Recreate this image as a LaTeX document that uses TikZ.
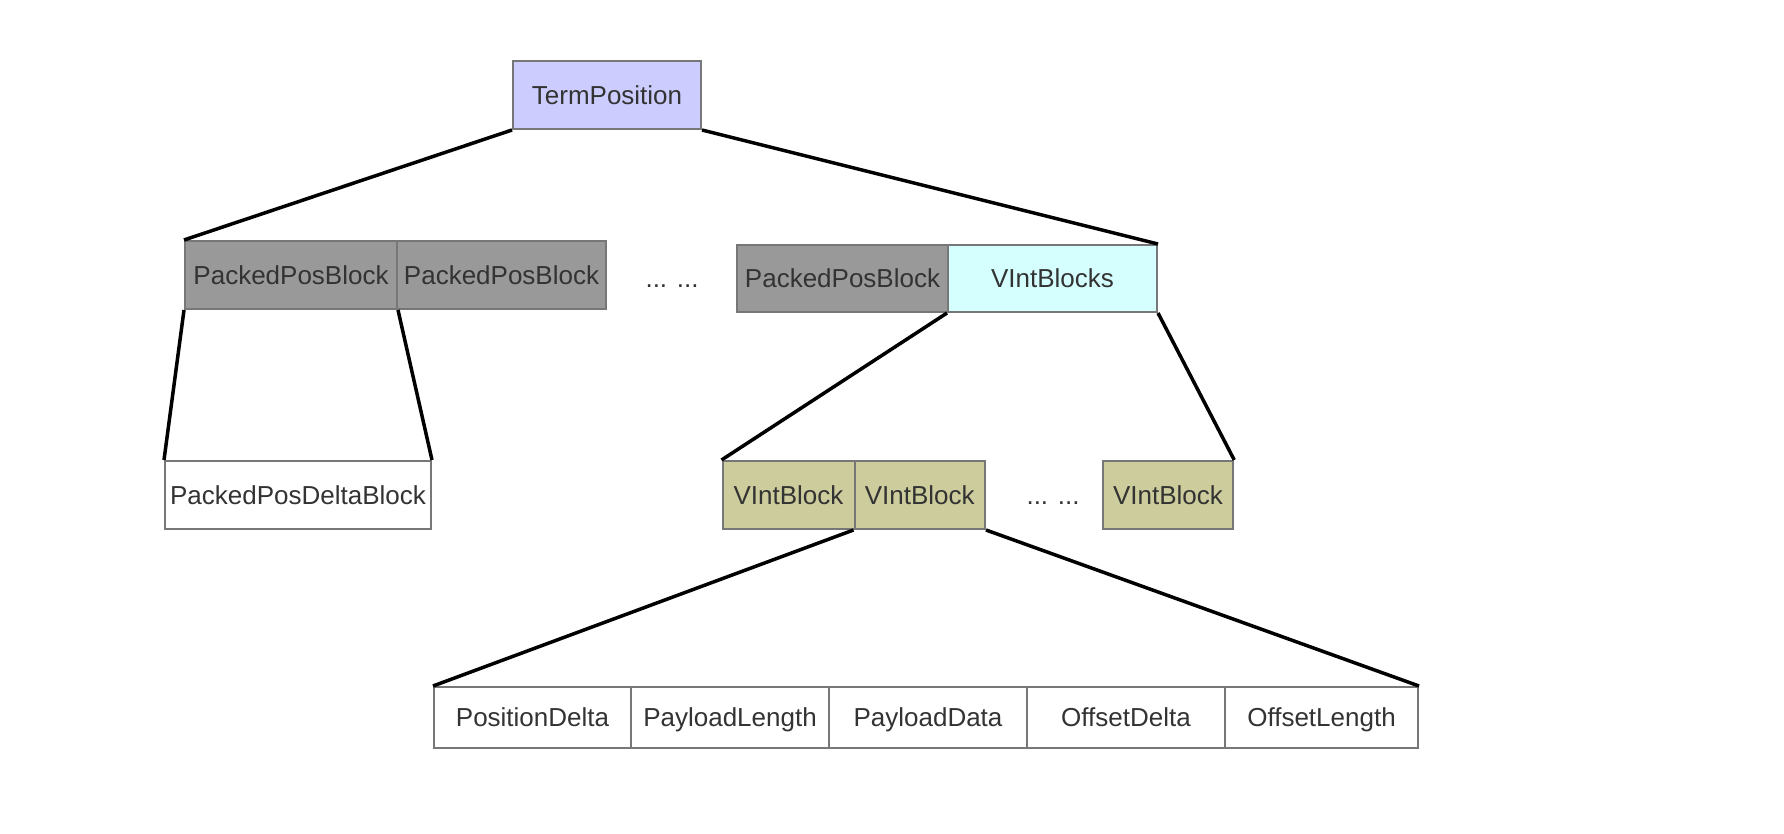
\documentclass[tikz,border=0pt]{standalone}
\usepackage{fontspec}
\setmainfont{Liberation Sans}
\definecolor{bordergray}{HTML}{777777}
\definecolor{textgray}{HTML}{333333}
\definecolor{tpfill}{HTML}{CCCCFF}
\definecolor{ppfill}{HTML}{999999}
\definecolor{vibsfill}{HTML}{D5FFFF}
\definecolor{vbfill}{HTML}{CCCC9C}
\begin{document}
\begin{tikzpicture}[x=1pt,y=-1pt,
  box/.style={draw=bordergray, line width=2pt, inner sep=0pt, minimum height=68pt,
    text=textgray, font=\fontsize{26}{31}\selectfont, text height=18.7pt, text depth=0pt},
  dotstext/.style={inner sep=0pt, text=textgray, font=\fontsize{26}{31}\selectfont, text height=18.7pt, text depth=0pt},
  conn/.style={line width=3.5pt, black}]
\useasboundingbox (0,0) rectangle (1784,834);
% level 0
\node[box, fill=tpfill, minimum width=188pt] (tp) at (607,95) {TermPosition};
% level 1
\node[box, fill=ppfill, minimum width=212pt] (ppb1) at (291,275) {PackedPosBlock};
\node[box, fill=ppfill, minimum width=209pt] (ppb2) at (501.5,275) {PackedPosBlock};
\node[dotstext] (dots1) at (672,278) {... ...};
\node[box, fill=ppfill, minimum width=211pt, minimum height=67pt] (ppb3) at (842.5,278.5) {PackedPosBlock};
\node[box, fill=vibsfill, minimum width=209pt, minimum height=67pt] (vibs) at (1052.5,278.5) {VIntBlocks};
% level 2
\node[box, fill=white, minimum width=266pt] (ppdb) at (298,495) {PackedPosDeltaBlock};
\node[box, fill=vbfill, minimum width=132pt] (vb1) at (788.5,495) {VIntBlock};
\node[box, fill=vbfill, minimum width=130.5pt] (vb2) at (919.75,495) {VIntBlock};
\node[dotstext] (dots2) at (1053,495) {... ...};
\node[box, fill=vbfill, minimum width=130.5pt] (vb3) at (1168,495) {VIntBlock};
% level 3
\node[box, fill=white, minimum width=197pt, minimum height=61pt] (f1) at (532.5,717.5) {PositionDelta};
\node[box, fill=white, minimum width=198pt, minimum height=61pt] (f2) at (730,717.5) {PayloadLength};
\node[box, fill=white, minimum width=198pt, minimum height=61pt] (f3) at (928,717.5) {PayloadData};
\node[box, fill=white, minimum width=198pt, minimum height=61pt] (f4) at (1126,717.5) {OffsetDelta};
\node[box, fill=white, minimum width=193pt, minimum height=61pt] (f5) at (1321.5,717.5) {OffsetLength};
% connectors
\draw[conn] (tp.south west) -- (ppb1.north west);
\draw[conn] (tp.south east) -- (vibs.north east);
\draw[conn] (ppb1.south west) -- (ppdb.north west);
\draw[conn] (ppb1.south east) -- (ppdb.north east);
\draw[conn] (vibs.south west) -- (vb1.north west);
\draw[conn] (vibs.south east) -- (vb3.north east);
\draw[conn] (vb2.south west) -- (f1.north west);
\draw[conn] (vb2.south east) -- (f5.north east);
\end{tikzpicture}
\end{document}
